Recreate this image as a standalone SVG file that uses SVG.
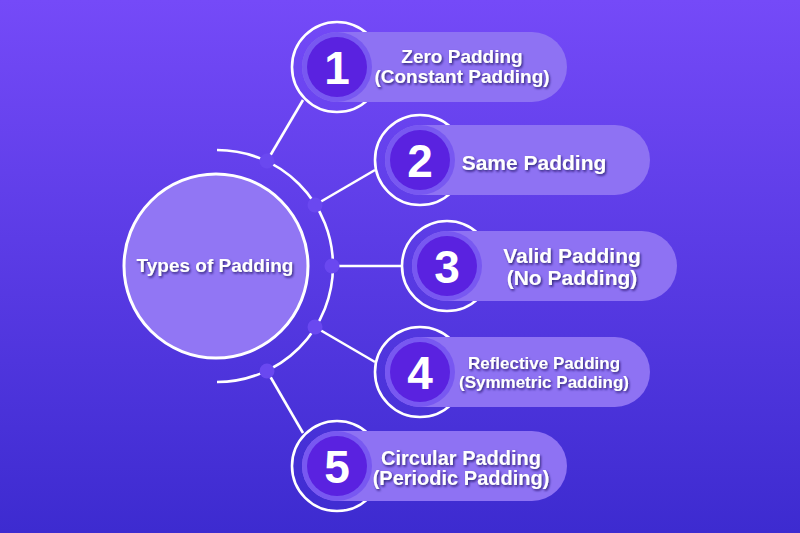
<svg xmlns="http://www.w3.org/2000/svg" width="800" height="533" viewBox="0 0 800 533">
<defs>
<linearGradient id="bg" x1="0" y1="0" x2="0" y2="1">
<stop offset="0" stop-color="#754af8"/>
<stop offset="1" stop-color="#3d2bd0"/>
</linearGradient>
<filter id="sh" x="-10%" y="-30%" width="120%" height="160%">
<feDropShadow dx="1.2" dy="1.6" stdDeviation="1" flood-color="#1e0a5a" flood-opacity="0.8"/>
</filter>
<style>
.ring{fill:none;stroke:#fff;stroke-width:2.6}
.pill{fill:#8e72f3}
.halo{fill:#7858f1}
.core{fill:#5a22e0}
.num{font-family:"Liberation Sans",Arial,sans-serif;font-weight:bold;font-size:46px;fill:#fff;text-anchor:middle}
.lbl{font-family:"Liberation Sans",Arial,sans-serif;font-weight:bold;fill:#fff;text-anchor:middle;filter:url(#sh)}
.ln{stroke:#fff;stroke-width:2.6;fill:none}
.dot{fill:#6a48f0}
</style>
</defs>
<rect width="800" height="533" fill="url(#bg)"/>

<g id="connectors">
<path class="ln" d="M217 150 A116 116 0 0 1 217 382"/>
<line class="ln" x1="267" y1="161" x2="303" y2="100"/>
<line class="ln" x1="315" y1="205" x2="375" y2="170"/>
<line class="ln" x1="332" y1="266" x2="403" y2="266"/>
<line class="ln" x1="315" y1="327" x2="375" y2="362"/>
<line class="ln" x1="267" y1="371" x2="303" y2="433"/>
<circle class="dot" cx="267" cy="161" r="7.5"/>
<circle class="dot" cx="315" cy="205" r="7.5"/>
<circle class="dot" cx="332" cy="266" r="7.5"/>
<circle class="dot" cx="315" cy="327" r="7.5"/>
<circle class="dot" cx="267" cy="371" r="7.5"/>
</g>

<g id="center">
<circle cx="216" cy="266" r="92" fill="#9176f4" stroke="#fff" stroke-width="3"/>
<text class="lbl" x="215" y="272" font-size="19">Types of Padding</text>
</g>

<g id="item1">
<circle class="ring" cx="337" cy="67" r="45"/>
<rect class="pill" x="302" y="32" width="265" height="70" rx="35"/>
<circle class="halo" cx="337" cy="67" r="35"/>
<circle class="core" cx="337" cy="67" r="30"/>
<text class="num" x="337" y="83.5">1</text>
<text class="lbl" x="462" y="63" font-size="19">Zero Padding</text>
<text class="lbl" x="462" y="83" font-size="19">(Constant Padding)</text>
</g>

<g id="item2">
<circle class="ring" cx="420" cy="160" r="45"/>
<rect class="pill" x="385" y="125" width="265" height="70" rx="35"/>
<circle class="halo" cx="420" cy="160" r="35"/>
<circle class="core" cx="420" cy="160" r="30"/>
<text class="num" x="420" y="176.5">2</text>
<text class="lbl" x="534" y="170" font-size="21">Same Padding</text>
</g>

<g id="item3">
<circle class="ring" cx="447" cy="266" r="45"/>
<rect class="pill" x="412" y="231" width="265" height="70" rx="35"/>
<circle class="halo" cx="447" cy="266" r="35"/>
<circle class="core" cx="447" cy="266" r="30"/>
<text class="num" x="447" y="282.5">3</text>
<text class="lbl" x="572" y="263" font-size="21">Valid Padding</text>
<text class="lbl" x="572" y="285" font-size="21">(No Padding)</text>
</g>

<g id="item4">
<circle class="ring" cx="420" cy="372" r="45"/>
<rect class="pill" x="385" y="337" width="265" height="70" rx="35"/>
<circle class="halo" cx="420" cy="372" r="35"/>
<circle class="core" cx="420" cy="372" r="30"/>
<text class="num" x="420" y="388.5">4</text>
<text class="lbl" x="544" y="369" font-size="17">Reflective Padding</text>
<text class="lbl" x="544" y="388" font-size="17">(Symmetric Padding)</text>
</g>

<g id="item5">
<circle class="ring" cx="337" cy="466" r="45"/>
<rect class="pill" x="302" y="431" width="265" height="70" rx="35"/>
<circle class="halo" cx="337" cy="466" r="35"/>
<circle class="core" cx="337" cy="466" r="30"/>
<text class="num" x="337" y="482.5">5</text>
<text class="lbl" x="461" y="465" font-size="20">Circular Padding</text>
<text class="lbl" x="461" y="485" font-size="20">(Periodic Padding)</text>
</g>
</svg>
